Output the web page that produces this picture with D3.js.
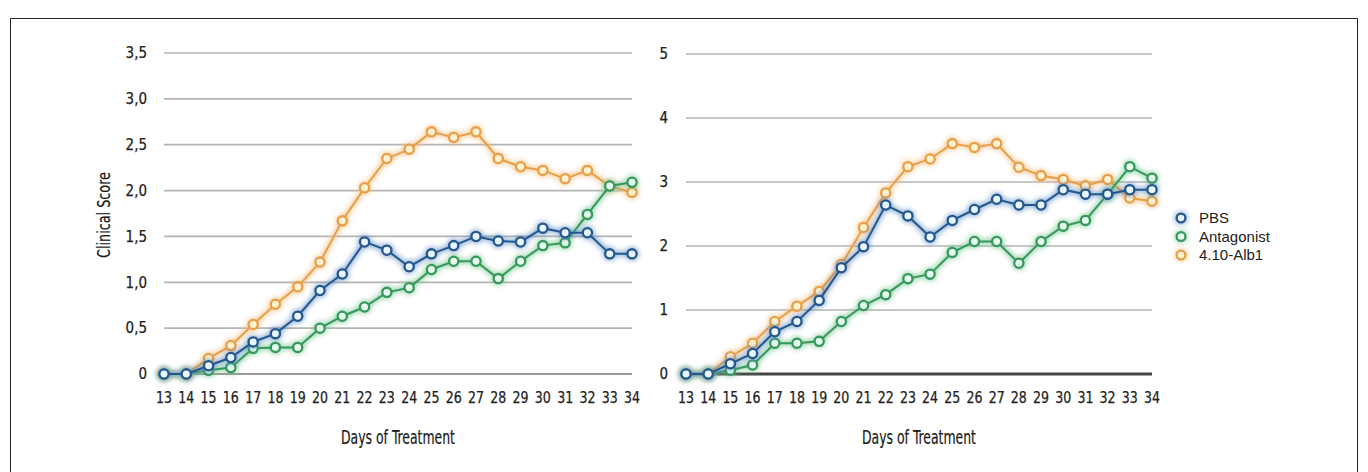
<!DOCTYPE html>
<html>
<head>
<meta charset="utf-8">
<script src="https://cdn.jsdelivr.net/npm/d3@7/dist/d3.min.js"></script>
<style>
  html, body { margin: 0; padding: 0; background: #fff; }
  svg { display: block; }
  .tick-label { font-family: "Liberation Sans Narrow", "DejaVu Sans Condensed", sans-serif; fill: #222; stroke: #222; stroke-width: 0.25; }
  .axis-title { font-family: "Liberation Sans Narrow", "DejaVu Sans Condensed", sans-serif; fill: #1a1a1a; stroke: #1a1a1a; stroke-width: 0.2; }
  .legend-text { font-family: "Liberation Sans", Arial, sans-serif; fill: #222; }
</style>
</head>
<body>
<svg id="chart" width="1368" height="472"></svg>
<script>
// Days of treatment (shared x categories)
const days = [13, 14, 15, 16, 17, 18, 19, 20, 21, 22, 23, 24, 25, 26, 27, 28, 29, 30, 31, 32, 33, 34];

// Series names
const seriesNames = ["PBS", "Antagonist", "4.10-Alb1"];

// Left panel: mean clinical score
const leftPBS        = [0, 0, 0.09, 0.18, 0.35, 0.44, 0.63, 0.91, 1.09, 1.44, 1.35, 1.17, 1.31, 1.40, 1.50, 1.45, 1.44, 1.59, 1.54, 1.54, 1.31, 1.31];
const leftAntagonist = [0, 0, 0.04, 0.07, 0.28, 0.29, 0.29, 0.50, 0.63, 0.73, 0.89, 0.94, 1.14, 1.23, 1.23, 1.04, 1.23, 1.40, 1.43, 1.74, 2.05, 2.09];
const leftAlb1       = [0, 0, 0.17, 0.31, 0.54, 0.76, 0.95, 1.22, 1.67, 2.03, 2.35, 2.45, 2.64, 2.58, 2.64, 2.35, 2.26, 2.22, 2.13, 2.22, 2.05, 1.98];

// Right panel: cumulative clinical score
const rightPBS        = [0, 0, 0.16, 0.32, 0.66, 0.82, 1.15, 1.66, 1.99, 2.64, 2.47, 2.14, 2.40, 2.57, 2.73, 2.64, 2.64, 2.88, 2.81, 2.81, 2.88, 2.88];
const rightAntagonist = [0, 0, 0.06, 0.14, 0.48, 0.48, 0.51, 0.82, 1.07, 1.24, 1.49, 1.56, 1.90, 2.07, 2.07, 1.73, 2.07, 2.31, 2.40, 2.81, 3.24, 3.06];
const rightAlb1       = [0, 0, 0.27, 0.48, 0.82, 1.06, 1.29, 1.71, 2.29, 2.83, 3.24, 3.36, 3.60, 3.54, 3.60, 3.23, 3.10, 3.04, 2.94, 3.04, 2.75, 2.70];

// Y-axis ticks and their labels
const leftYTicks  = [0, 0.5, 1, 1.5, 2, 2.5, 3, 3.5];
const leftYLabels = ["0", "0,5", "1,0", "1,5", "2,0", "2,5", "3,0", "3,5"];
const rightYTicks  = [0, 1, 2, 3, 4, 5];
const rightYLabels = ["0", "1", "2", "3", "4", "5"];

const xTitle = "Days of Treatment";
const yTitle = "Clinical Score";

const styles = {
  "PBS":        { stroke: "#24578e", fill: "#e8f7ff", glow: "#5b8cc2" },
  "Antagonist": { stroke: "#36985a", fill: "#e6fcef", glow: "#6fc48c" },
  "4.10-Alb1":  { stroke: "#e99f48", fill: "#fff2d2", glow: "#f3bb78" }
};

const svg = d3.select("#chart");

// Soft halo behind lines and markers
const defs = svg.append("defs");
defs.append("filter").attr("id", "halo")
  .attr("x", "-20%").attr("y", "-20%").attr("width", "140%").attr("height", "140%")
  .append("feGaussianBlur").attr("stdDeviation", 2.4);

// Outer frame
svg.append("path")
  .attr("d", "M10.5,472 V18.5 H1357.5 V472")
  .attr("fill", "none").attr("stroke", "#222").attr("stroke-width", 1);

function drawPanel(cfg) {
  const x = d3.scalePoint().domain(days).range(cfg.xRange);
  const y = d3.scaleLinear().domain(cfg.yDomain).range(cfg.yRange);
  const g = svg.append("g");

  // Gridlines
  g.selectAll("line.grid").data(cfg.yTicks).join("line")
    .attr("class", "grid")
    .attr("x1", cfg.xRange[0]).attr("x2", cfg.xRange[1])
    .attr("y1", d => y(d)).attr("y2", d => y(d))
    .attr("stroke", d => d === 0 ? cfg.zeroColor : "#b4b4b4")
    .attr("stroke-width", d => d === 0 ? cfg.zeroWidth : 1.7);

  // Y tick labels
  g.selectAll("text.ylab").data(cfg.yTicks).join("text")
    .attr("class", "tick-label ylab")
    .attr("x", cfg.yLabelX).attr("y", d => y(d))
    .attr("dy", "0.35em")
    .attr("text-anchor", "end")
    .attr("font-size", 15)
    .text((d, i) => cfg.yLabels[i]);

  // X tick labels
  g.selectAll("text.xlab").data(days).join("text")
    .attr("class", "tick-label xlab")
    .attr("x", d => x(d)).attr("y", cfg.yRange[0] + 29)
    .attr("text-anchor", "middle")
    .attr("font-size", 15.5)
    .attr("textLength", 16).attr("lengthAdjust", "spacingAndGlyphs")
    .text(d => d);

  // X title
  g.append("text").attr("class", "axis-title")
    .attr("x", (cfg.xRange[0] + cfg.xRange[1]) / 2).attr("y", 444)
    .attr("text-anchor", "middle").attr("font-size", 19)
    .attr("textLength", 114).attr("lengthAdjust", "spacingAndGlyphs")
    .text(xTitle);

  if (cfg.showYTitle) {
    g.append("text").attr("class", "axis-title")
      .attr("transform", "translate(110, 215) rotate(-90)")
      .attr("text-anchor", "middle").attr("font-size", 18.5)
      .attr("textLength", 86).attr("lengthAdjust", "spacingAndGlyphs")
      .text(yTitle);
  }

  const line = d3.line().x((d, i) => x(days[i])).y(d => y(d));

  cfg.series.forEach(s => {
    const st = styles[s.name];
    const sg = g.append("g");
    // halo layer
    const halo = sg.append("g").attr("filter", "url(#halo)").attr("opacity", 0.65);
    halo.append("path").datum(s.values)
      .attr("d", line).attr("fill", "none")
      .attr("stroke", st.glow).attr("stroke-width", 5.5);
    halo.selectAll("circle").data(s.values).join("circle")
      .attr("cx", (d, i) => x(days[i])).attr("cy", d => y(d))
      .attr("r", 7).attr("fill", st.glow);
    // crisp layer
    sg.append("path").datum(s.values)
      .attr("d", line).attr("fill", "none")
      .attr("stroke", st.stroke).attr("stroke-width", 2);
    sg.selectAll("circle.pt").data(s.values).join("circle")
      .attr("class", "pt")
      .attr("cx", (d, i) => x(days[i])).attr("cy", d => y(d))
      .attr("r", 4.6).attr("fill", st.fill)
      .attr("stroke", st.stroke).attr("stroke-width", 2.3);
  });
}

drawPanel({
  xRange: [164, 632], yDomain: [0, 3.5], yRange: [374, 53],
  yTicks: leftYTicks, yLabels: leftYLabels, yLabelX: 147,
  zeroColor: "#9a9a9a", zeroWidth: 2.2, showYTitle: true,
  series: [
    { name: "4.10-Alb1", values: leftAlb1 },
    { name: "Antagonist", values: leftAntagonist },
    { name: "PBS", values: leftPBS }
  ]
});

drawPanel({
  xRange: [686, 1152], yDomain: [0, 5], yRange: [374, 54],
  yTicks: rightYTicks, yLabels: rightYLabels, yLabelX: 668,
  zeroColor: "#454545", zeroWidth: 2.8, showYTitle: false,
  series: [
    { name: "4.10-Alb1", values: rightAlb1 },
    { name: "Antagonist", values: rightAntagonist },
    { name: "PBS", values: rightPBS }
  ]
});

// Legend
const legend = svg.append("g").attr("transform", "translate(1181, 218)");
seriesNames.forEach((name, i) => {
  const st = styles[name];
  const row = legend.append("g").attr("transform", `translate(0, ${i * 18.5})`);
  row.append("circle").attr("r", 7).attr("fill", st.glow)
    .attr("opacity", 0.55).attr("filter", "url(#halo)");
  row.append("circle").attr("r", 4.4).attr("fill", st.fill)
    .attr("stroke", st.stroke).attr("stroke-width", 2.3);
  row.append("text").attr("class", "legend-text")
    .attr("x", 18).attr("dy", "0.36em").attr("font-size", 15)
    .text(name);
});
</script>
</body>
</html>
